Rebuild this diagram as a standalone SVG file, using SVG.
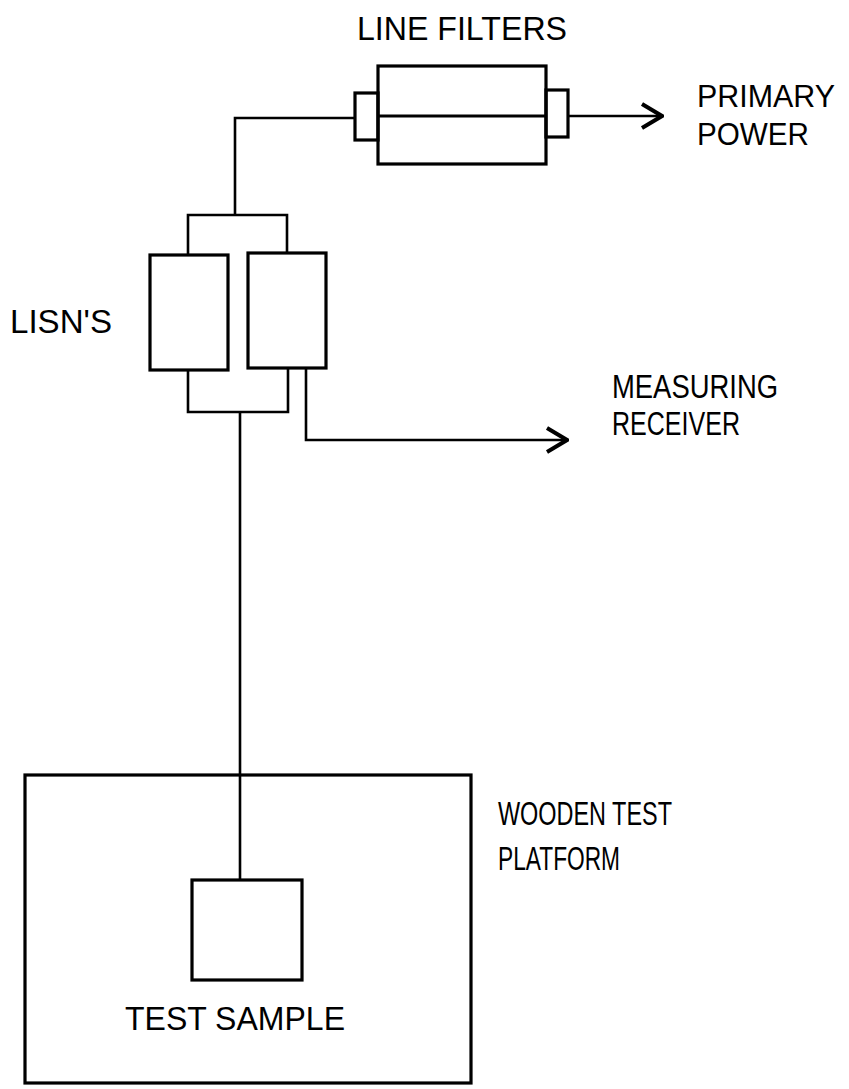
<svg xmlns="http://www.w3.org/2000/svg" width="849" height="1089" viewBox="0 0 849 1089">
<style>
.box{fill:none;stroke:#000;stroke-width:3.2}
.wire{fill:none;stroke:#000;stroke-width:2.6}
.lbl{font-family:"Liberation Sans",Arial,sans-serif;font-size:33px;fill:#000}
.sm{font-size:31px}
</style>
<defs>
<marker id="arr" viewBox="0 0 24 28" refX="22" refY="14" markerWidth="24" markerHeight="28" markerUnits="userSpaceOnUse" orient="auto">
<path d="M2,2 L22,14 L2,26" fill="none" stroke="#000" stroke-width="4"/>
</marker>
</defs>
<rect width="849" height="1089" fill="#fff"/>
<g id="line-filters">
<rect class="box" x="378" y="66" width="168" height="98"/>
<line class="box" x1="378" y1="116" x2="546" y2="116"/>
<rect class="box" x="355" y="93" width="23" height="47"/>
<rect class="box" x="546" y="90" width="22" height="47"/>
<text class="lbl" x="357" y="40" textLength="210" lengthAdjust="spacingAndGlyphs">LINE FILTERS</text>
</g>
<g id="primary-power">
<text class="lbl sm" x="697" y="107" textLength="138" lengthAdjust="spacingAndGlyphs">PRIMARY</text>
<text class="lbl sm" x="697" y="145" textLength="112" lengthAdjust="spacingAndGlyphs">POWER</text>
</g>
<g id="lisns">
<rect class="box" x="150" y="255" width="78" height="115"/>
<rect class="box" x="248" y="253" width="78" height="115"/>
<text class="lbl" x="10" y="333" textLength="102" lengthAdjust="spacingAndGlyphs">LISN'S</text>
</g>
<g id="measuring-receiver">
<text class="lbl" x="612" y="398" textLength="166" lengthAdjust="spacingAndGlyphs">MEASURING</text>
<text class="lbl" x="612" y="435" textLength="128" lengthAdjust="spacingAndGlyphs">RECEIVER</text>
</g>
<g id="platform">
<rect class="box" x="25" y="775" width="446" height="308"/>
<text class="lbl" x="498" y="825" textLength="174" lengthAdjust="spacingAndGlyphs">WOODEN TEST</text>
<text class="lbl" x="498" y="870" textLength="122" lengthAdjust="spacingAndGlyphs">PLATFORM</text>
</g>
<g id="test-sample">
<rect class="box" x="192" y="880" width="110" height="100"/>
<text class="lbl" x="125" y="1030" textLength="220" lengthAdjust="spacingAndGlyphs">TEST SAMPLE</text>
</g>
<g id="connectors">
<polyline class="wire" points="355,118 235,118 235,215"/>
<polyline class="wire" points="188,255 188,215 287,215 287,253"/>
<polyline class="wire" points="188,370 188,412 288,412 288,368"/>
<line class="wire" x1="240" y1="412" x2="240" y2="880"/>
<line class="wire" x1="568" y1="116" x2="662" y2="116" marker-end="url(#arr)"/>
<polyline class="wire" points="306,368 306,440 567,440" marker-end="url(#arr)"/>
</g>
</svg>
